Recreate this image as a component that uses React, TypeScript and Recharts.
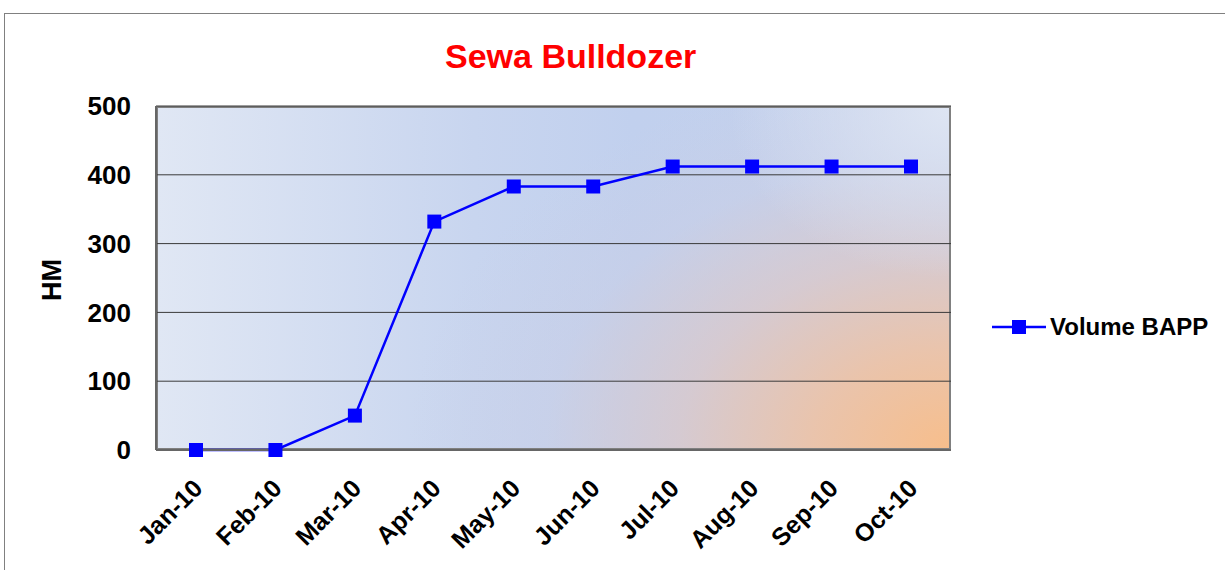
import React from 'react';
import {
  LineChart,
  Line,
  XAxis,
  YAxis,
  CartesianGrid,
  Legend,
} from 'recharts';

// Sewa Bulldozer -- monthly HM (Volume BAPP), Jan-10 .. Oct-10

const months = ['Jan-10', 'Feb-10', 'Mar-10', 'Apr-10', 'May-10', 'Jun-10', 'Jul-10', 'Aug-10', 'Sep-10', 'Oct-10'];
const volumeBapp = [0, 0, 50, 332, 383, 383, 412, 412, 412, 412];
const yTicks = [0, 100, 200, 300, 400, 500];

const data = months.map((m, i) => ({ month: m, volume: volumeBapp[i] }));

const FONT = '"Liberation Sans", Arial, sans-serif';
const BLUE = '#0000ff';

const W = 1225;
const H = 570;
const PLOT = { left: 156, top: 106, right: 951, bottom: 450 };

function SquareDot(props: any) {
  const { cx, cy } = props;
  if (cx == null || cy == null) return null;
  return <rect x={cx - 7} y={cy - 7} width={14} height={14} fill={BLUE} />;
}

function MonthTick(props: any) {
  const { x, y, payload } = props;
  const tx = x + 8;
  const ty = y + 32;
  return (
    <text
      x={tx}
      y={ty}
      transform={`rotate(-45 ${tx} ${ty})`}
      textAnchor="end"
      fontFamily={FONT}
      fontWeight="bold"
      fontSize={25}
      fill="#000"
    >
      {payload.value}
    </text>
  );
}

function LegendContent() {
  return (
    <div style={{ display: 'flex', alignItems: 'center', fontFamily: FONT }}>
      <svg width={54} height={16}>
        <line x1={0} y1={8} x2={54} y2={8} stroke={BLUE} strokeWidth={2.5} />
        <rect x={20} y={1} width={14} height={14} fill={BLUE} />
      </svg>
      <span style={{ fontWeight: 'bold', fontSize: 24, marginLeft: 4, color: '#000' }}>Volume BAPP</span>
    </div>
  );
}

export default function App() {
  return (
    <div style={{ position: 'absolute', left: 0, top: 0, width: W, height: H, overflow: 'hidden', background: '#fff' }}>
      {/* outer chart frame */}
      <div
        style={{
          position: 'absolute',
          left: 4,
          top: 13,
          width: W + 20,
          height: H + 20,
          border: '1px solid #808080',
        }}
      />

      {/* plot area fill */}
      <div
        style={{
          position: 'absolute',
          left: PLOT.left,
          top: PLOT.top,
          width: PLOT.right - PLOT.left,
          height: PLOT.bottom - PLOT.top,
          boxSizing: 'border-box',
          border: '2px solid #808080',
          background: [
            'radial-gradient(ellipse 220px 170px at 100% 0%, rgba(222,229,243,1) 0%, rgba(222,229,243,0) 100%)',
            'radial-gradient(ellipse 540px 390px at 100% 100%, rgba(247,190,140,1) 0%, rgba(236,195,168,0.95) 25%, rgba(220,200,200,0.75) 50%, rgba(205,205,225,0.35) 75%, rgba(200,208,235,0) 100%)',
            'linear-gradient(to right, #e0e7f4 0%, #c8d5ef 40%, #c1d0ee 60%, #c4d1ec 100%)',
          ].join(', '),
        }}
      />

      <div
        style={{
          position: 'absolute',
          left: 445,
          top: 37,
          fontFamily: FONT,
          fontWeight: 'bold',
          fontSize: 34,
          color: '#ff0000',
          whiteSpace: 'nowrap',
          lineHeight: '38px',
        }}
      >
        Sewa Bulldozer
      </div>

      <div
        style={{
          position: 'absolute',
          left: 52,
          top: 280,
          transform: 'translate(-50%, -50%) rotate(-90deg)',
          fontFamily: FONT,
          fontWeight: 'bold',
          fontSize: 27,
          color: '#000',
          whiteSpace: 'nowrap',
        }}
      >
        HM
      </div>

      <LineChart
        width={W}
        height={H}
        data={data}
        margin={{ top: PLOT.top, right: W - PLOT.right, bottom: 0, left: 0 }}
        style={{ position: 'absolute', left: 0, top: 0 }}
      >
        <CartesianGrid vertical={false} stroke="#3a3a3a" strokeWidth={1} />
        <XAxis
          dataKey="month"
          height={H - PLOT.bottom}
          padding={{ left: 40, right: 40 }}
          tickLine={false}
          axisLine={{ stroke: '#666', strokeWidth: 2 }}
          tick={<MonthTick />}
          interval={0}
        />
        <YAxis
          width={PLOT.left}
          domain={[0, 500]}
          ticks={yTicks}
          tickLine={false}
          tickSize={0}
          tickMargin={25}
          axisLine={{ stroke: '#666', strokeWidth: 2 }}
          tick={{ fontFamily: FONT, fontWeight: 'bold', fontSize: 26, fill: '#000' }}
        />
        <Legend
          layout="horizontal"
          align="center"
          verticalAlign="middle"
          content={<LegendContent />}
          wrapperStyle={{ left: 992, top: 313, width: 230, height: 30 }}
        />
        <Line
          type="linear"
          dataKey="volume"
          name="Volume BAPP"
          stroke={BLUE}
          strokeWidth={2.5}
          dot={<SquareDot />}
          activeDot={false}
          isAnimationActive={false}
        />
      </LineChart>
    </div>
  );
}
